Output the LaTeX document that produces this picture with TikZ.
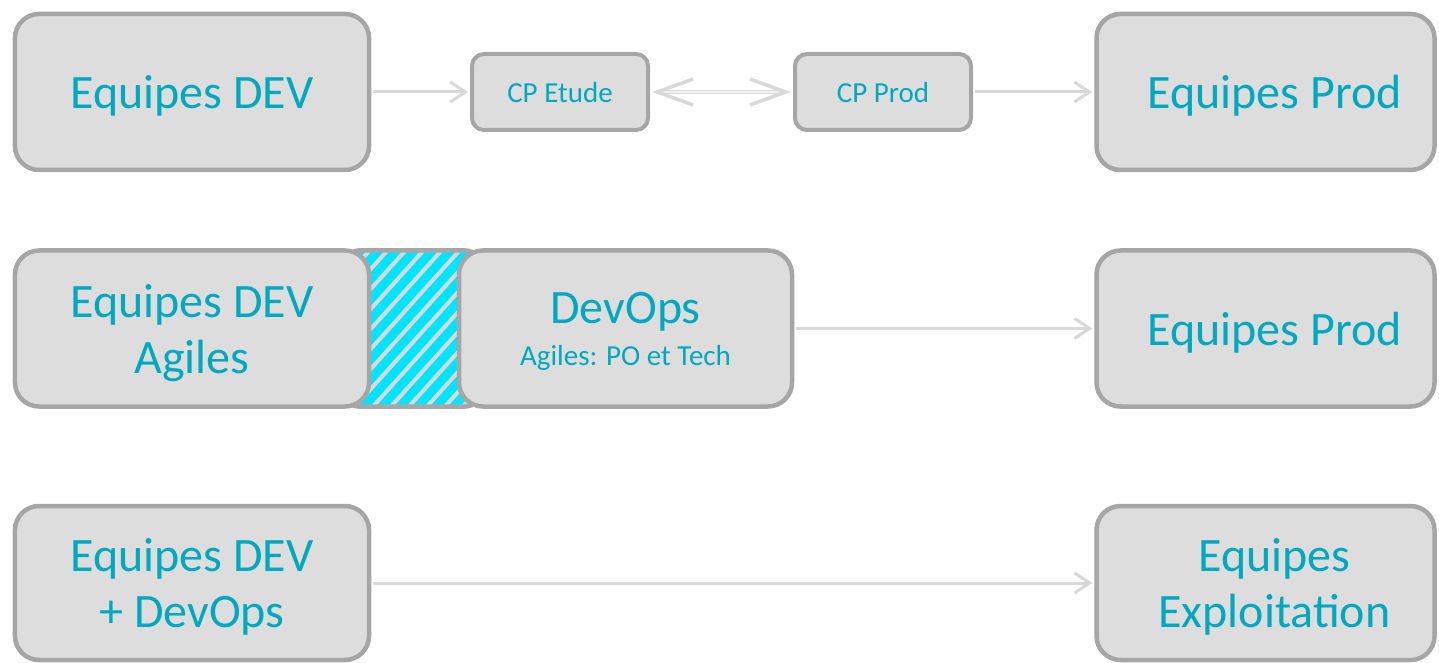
\documentclass[tikz,border=0pt]{standalone}
\usepackage{fontspec}
\setmainfont{Carlito}
\usetikzlibrary{positioning,arrows.meta,backgrounds}

\definecolor{boxfill}{HTML}{DDDDDD}
\definecolor{boxline}{HTML}{A6A6A6}
\definecolor{teamtext}{HTML}{00A9BF}
\definecolor{arrowgray}{HTML}{D9D9D9}
\definecolor{hatchcyan}{HTML}{00E5FF}

\begin{document}
\begin{tikzpicture}[x=1pt,y=1pt,on grid,
  >={Straight Barb[length=15pt,width=20pt]},
  team/.style={draw=boxline,fill=boxfill,line width=4.5pt,rounded corners=24pt,
    text=teamtext,align=center,inner sep=0pt,text depth=0pt,minimum width=354pt,
    minimum height=156pt,font=\fontsize{48}{56}\selectfont},
  cp/.style={team,line width=4pt,rounded corners=12pt,minimum width=176pt,
    minimum height=76pt,font=\fontsize{29}{35}\selectfont},
  hatch/.style={fill=hatchcyan,rounded corners=24pt,minimum width=150pt,minimum height=156pt},
  flow/.style={draw=arrowgray,line width=3pt,shorten <=2pt,shorten >=2pt},
  twin/.style={draw=arrowgray,line width=1.6pt,double=boxfill!40!white,double distance=1.6pt,
    shorten <=2pt,shorten >=2pt,
    arrows={Straight Barb[length=36pt,width=26pt,line width=3.5pt]-Straight Barb[length=36pt,width=26pt,line width=3.5pt]}}]
  \useasboundingbox (-192,92) rectangle (1247,-571);

  % ligne 1
  \node[team] (dev_1) at (0,0) {Equipes DEV};
  \node[cp]   (cp_etude) [right=368pt of dev_1]    {CP Etude};
  \node[cp]   (cp_prod)  [right=323pt of cp_etude] {CP Prod};
  \node[team,minimum width=338pt] (prod_1) [right=382.5pt of cp_prod] {\hspace*{18pt}Equipes Prod};

  % ligne 2
  \node[team] (dev_2) [below=236.5pt of dev_1] {Equipes DEV\\Agiles};
  \node[team,minimum width=333pt,text depth=-10pt] (devops) [right=433.5pt of dev_2]
    {DevOps\\[-14pt]{\fontsize{29}{35}\selectfont Agiles: PO et Tech}};
  \node[team,minimum width=338pt] (prod_2) [below=236.5pt of prod_1] {\hspace*{18pt}Equipes Prod};
  \begin{scope}[on background layer]
    \node[hatch] (bridge) [right=220pt of dev_2] {};
    \begin{scope}
      \clip (bridge.south west) rectangle (bridge.north east);
      \foreach \k in {-12,...,10}
        \draw[arrowgray,line width=4pt] ([xshift=\k*18pt]bridge.south west) -- ++(48:320pt);
    \end{scope}
    \draw[boxline,line width=4.5pt,rounded corners=24pt] (bridge.south west) rectangle (bridge.north east);
  \end{scope}

  % ligne 3
  \node[team,minimum height=154pt] (dev_3) [below=254.5pt of dev_2] {Equipes DEV\\+ DevOps};
  \node[team,minimum width=338pt,minimum height=154pt] (expl) [below=254.5pt of prod_2]
    {\hspace*{18pt}Equipes\\\hspace*{18pt}Exploitation};

  \path[flow,->] (dev_1)   edge (cp_etude)
                 (cp_prod) edge (prod_1)
                 (devops)  edge (prod_2)
                 (dev_3)   edge (expl);
  \draw[twin] (cp_etude) -- (cp_prod);
\end{tikzpicture}
\end{document}
